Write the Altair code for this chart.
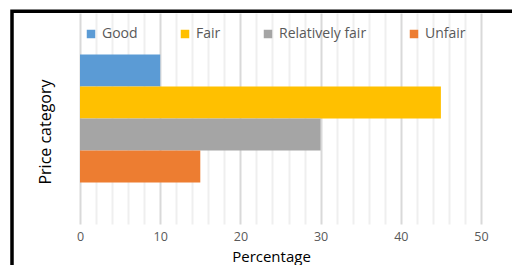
import altair as alt
import pandas as pd

category = "Price"
series = ["Good", "Fair", "Relatively fair", "Unfair"]
values = [10, 45, 30, 15]
colors = ["#5B9BD5", "#FFC000", "#A5A5A5", "#ED7D31"]
x_ticks = list(range(0, 51, 2))

df = pd.DataFrame({"cat": [category] * len(series), "series": series, "value": values})

bars = alt.Chart(df).mark_bar().encode(
    x=alt.X(
        "value:Q",
        scale=alt.Scale(domain=[0, 50], nice=False),
        axis=alt.Axis(
            values=x_ticks,
            labelExpr="datum.value % 10 === 0 ? datum.label : ''",
            title="Percentage",
            titleFont="Open Sans",
            titleFontSize=15,
            titleFontWeight="normal",
            titleColor="#000000",
            titleX=191,
            titleY=37.5,
            titleAnchor="middle",
            titleAlign="center",
            titleBaseline="alphabetic",
            labelFont="Open Sans",
            labelFontSize=12.5,
            labelColor="#595959",
            labelBaseline="middle",
            labelPadding=12,
            labelFlush=False,
            ticks=False,
            tickSize=0,
            domain=False,
            grid=True,
            gridWidth=2,
            gridColor={"condition": {"test": "datum.value % 10 === 0", "value": "#d9d9d9"}, "value": "#efefef"},
        ),
    ),
    y=alt.Y(
        "cat:N",
        scale=alt.Scale(paddingInner=0, paddingOuter=0.324),
        axis=alt.Axis(
            labels=False,
            ticks=False,
            domain=False,
            grid=False,
            title="Price category",
            titleFont="Open Sans",
            titleFontSize=16,
            titleFontWeight="normal",
            titleColor="#000000",
            titleX=-30,
            titleY=118.5,
            titleAngle=270,
            titleAlign="center",
            titleBaseline="alphabetic",
        ),
    ),
    yOffset=alt.YOffset(
        "series:N",
        sort=series,
        scale=alt.Scale(paddingInner=0, paddingOuter=0),
    ),
    color=alt.Color(
        "series:N",
        sort=series,
        scale=alt.Scale(domain=series, range=colors),
        legend=alt.Legend(
            title=None,
            orient="none",
            direction="horizontal",
            legendX=4,
            legendY=14,
            symbolType="square",
            symbolSize=72,
            symbolStrokeWidth=0,
            symbolOpacity=1,
            labelFont="Open Sans",
            labelFontSize=14,
            labelColor="#595959",
            labelOffset=4,
            columnPadding=40,
            padding=0,
        ),
    ),
)

frame = alt.Chart(alt.Data(values=[{"a": 1}])).mark_rect(
    filled=False, stroke="#000000", strokeWidth=3.5
).encode(
    x=alt.value(-68),
    x2=alt.value(800),
    y=alt.value(-1.7),
    y2=alt.value(800),
)

chart = alt.layer(bars, frame).properties(
    width=401,
    height=211,
    autosize=alt.AutoSizeParams(type="none"),
    padding={"left": 72, "top": 5, "right": 31, "bottom": 41},
    background="#ffffff",
).configure_view(strokeOpacity=0)

chart.save("out.html", embed_options={"renderer": "svg", "actions": False})
